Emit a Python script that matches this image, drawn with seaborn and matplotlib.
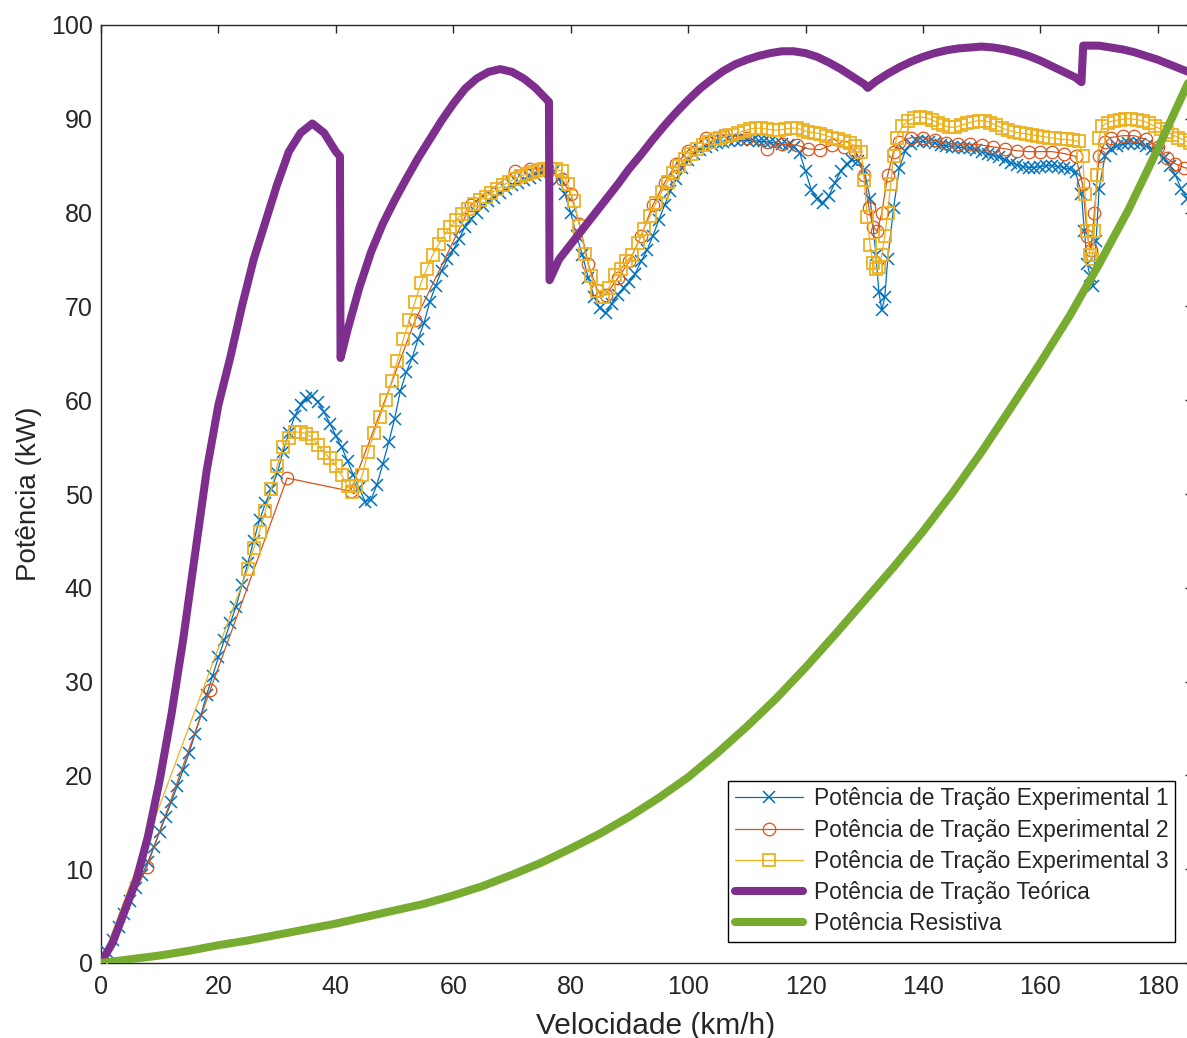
import matplotlib
matplotlib.use("Agg")
import matplotlib.pyplot as plt
import seaborn as sns
import pandas as pd

# ---------------- data ----------------
exp1_v = [0, 1, 2, 3, 4, 5, 6, 7, 8, 9, 10, 11, 12, 13, 14, 15, 16, 17, 18, 19, 20,
          21, 22, 23, 24, 25, 26, 27, 28, 29, 30, 31, 32, 33, 34, 35, 36, 37, 38, 39, 40,
          41, 42, 43, 44, 45, 46, 47, 48, 49, 50, 51, 52, 53, 54, 55, 56, 57, 58, 59, 60,
          61, 62, 63, 64, 65, 66, 67, 68, 69, 70, 71, 72, 73, 74, 75, 76, 77, 78, 79, 80,
          81, 82, 83, 84, 85, 86, 87, 88, 89, 90, 91, 92, 93, 94, 95, 96, 97, 98, 99, 100,
          101, 102, 103, 104, 105, 106, 107, 108, 109, 110, 111, 112, 113, 114, 115, 116,
          117, 118, 119, 120, 121, 122, 123, 124, 125, 126, 127, 128, 129, 130, 131, 132,
          132.5, 133, 133.5, 134, 135, 136, 137, 138, 139, 140, 141, 142, 143, 144, 145,
          146, 147, 148, 149, 150, 151, 152, 153, 154, 155, 156, 157, 158, 159, 160, 161,
          162, 163, 164, 165, 166, 167, 167.5, 168, 168.5, 169, 169.5, 170, 171, 172, 173,
          174, 175, 176, 177, 178, 179, 180, 181, 182, 183, 184, 185]
exp1_p = [0, 1.2, 2.5, 3.8, 5.2, 6.6, 8.0, 9.4, 10.8, 12.4, 14.0, 15.6, 17.2, 18.9, 20.6,
          22.4, 24.4, 26.4, 28.6, 30.6, 32.6, 34.4, 36.2, 38.0, 40.3, 42.6, 45.0, 47.2, 49.0,
          50.5, 52.2, 54.5, 56.5, 58.3, 59.5, 60.2, 60.4, 59.8, 58.7, 57.5, 56.2, 55.0, 53.5,
          52.0, 50.6, 49.2, 49.4, 51.0, 53.2, 55.5, 58.0, 61.0, 63.0, 64.5, 66.5, 68.2, 70.5,
          72.2, 73.8, 75.0, 76.0, 77.2, 78.5, 79.3, 80.0, 80.7, 81.2, 81.6, 82.1, 82.5, 82.9,
          83.2, 83.5, 83.7, 84.0, 84.2, 84.4, 84.3, 83.6, 82.0, 80.0, 77.5, 75.5, 73.0, 71.0,
          69.8, 69.3, 70.3, 71.2, 72.0, 72.6, 73.5, 74.8, 76.0, 77.5, 79.2, 80.8, 82.3, 83.6,
          84.8, 85.6, 86.2, 86.7, 87.0, 87.2, 87.4, 87.5, 87.6, 87.7, 87.7, 87.7, 87.7, 87.6,
          87.6, 87.5, 87.4, 87.3, 87.2, 87.0, 86.4, 84.4, 82.4, 81.4, 81.0, 81.8, 83.2, 84.4,
          85.2, 85.6, 85.5, 84.5, 81.5, 75.5, 71.5, 69.6, 71.0, 75.0, 80.5, 84.8, 86.6, 87.3,
          87.6, 87.6, 87.5, 87.4, 87.2, 87.1, 87.0, 87.0, 86.9, 86.9, 86.7, 86.5, 86.3, 86.1,
          85.9, 85.6, 85.3, 85.1, 84.9, 84.8, 84.8, 84.9, 85.0, 85.0, 84.9, 84.8, 84.6, 84.3,
          82.0, 78.0, 74.5, 73.2, 72.2, 77.0, 82.5, 86.0, 86.8, 87.1, 87.3, 87.4, 87.4, 87.3,
          87.1, 86.8, 86.4, 85.8, 85.0, 84.0, 82.5, 81.5]

exp2_v = [0, 7.8, 18.6, 31.7, 42.5, 53.5, 63.0, 70.5, 73, 76, 78.5, 80, 81.5, 83, 84.5,
          86, 88, 90, 92, 94, 96, 98, 100, 103, 106, 110, 113.4, 116, 118.5, 120.5, 122.4,
          124.5, 126.5, 128.5, 130, 130.8, 131.5, 132.2, 133, 134, 135, 136, 138, 140, 142,
          144, 146, 148, 150, 152, 154, 156, 158, 160, 162, 164, 166, 167.2, 168, 168.6,
          169.2, 170, 171, 172, 174, 176, 178, 180, 181.5, 183, 184.5, 186]
exp2_p = [0, 10.2, 29.1, 51.7, 50.3, 68.5, 80.8, 84.4, 84.6, 84.8, 83.6, 82.0, 78.8, 74.5,
          71.8, 71.2, 73.0, 74.8, 77.5, 80.8, 83.2, 85.2, 86.6, 88.0, 88.3, 88.0, 86.8, 87.3,
          87.2, 86.8, 86.7, 87.2, 87.0, 86.6, 84.0, 80.5, 78.5, 78.0, 80.0, 84.0, 86.5, 87.5,
          88.0, 88.0, 87.7, 87.4, 87.3, 87.3, 87.2, 87.0, 86.8, 86.6, 86.5, 86.5, 86.5, 86.3,
          86.0, 83.0, 77.5, 76.0, 80.0, 86.0, 87.5, 88.0, 88.2, 88.2, 87.8, 87.0, 85.8, 85.2,
          84.8, 84.6]

exp3_v = [0, 25, 26, 27, 28, 29, 30, 31, 32, 33, 34, 35, 36, 37, 38, 39, 40, 41, 42, 42.7,
          43.5, 44.5, 45.5, 46.5, 47.5, 48.5, 49.5, 50.5, 51.5, 52.5, 53.5, 54.5, 55.5, 56.5,
          57.5, 58.5, 59.5, 60.5, 61.5, 62.5, 63.5, 64.5, 65.5, 66.5, 67.5, 68.5, 69.5, 70.5,
          71.5, 72.5, 73.5, 74.5, 75.5, 76.5, 77.5, 78.5, 79.5, 80.5, 81.5, 82.5, 83.5, 84.5,
          85.5, 86.5, 87.5, 88.5, 89.5, 90.5, 91.5, 92.5, 93.5, 94.5, 95.5, 96.5, 97.5, 98.5,
          99.5, 100.5, 101.5, 102.5, 103.5, 104.5, 105.5, 106.5, 107.5, 108.5, 109.5, 110.5,
          111.5, 112.5, 113.5, 114.5, 115.5, 116.5, 117.5, 118.5, 119.5, 120.5, 121.5, 122.5,
          123.5, 124.5, 125.5, 126.5, 127.5, 128.5, 129.5, 130.0, 130.5, 131.0, 131.5, 132.0,
          132.5, 133.0, 133.5, 134.0, 134.5, 135.0, 135.5, 136.5, 137.5, 138.5, 139.5, 140.5,
          141.5, 142.5, 143.5, 144.5, 145.5, 146.5, 147.5, 148.5, 149.5, 150.5, 151.5, 152.5,
          153.5, 154.5, 155.5, 156.5, 157.5, 158.5, 159.5, 160.5, 161.5, 162.5, 163.5, 164.5,
          165.5, 166.5, 167.2, 167.6, 168.0, 168.4, 168.8, 169.2, 169.6, 170.0, 170.5, 171.5,
          172.5, 173.5, 174.5, 175.5, 176.5, 177.5, 178.5, 179.5, 180.5, 181.5, 182.5, 183.5,
          184.5, 185.5]
exp3_p = [0, 42.0, 44.2, 46.0, 48.2, 50.5, 53.0, 55.0, 56.0, 56.6, 56.6, 56.4, 56.0, 55.2,
          54.4, 53.8, 53.0, 52.0, 50.8, 50.2, 50.8, 52.0, 54.5, 56.5, 58.2, 60.0, 62.0, 64.2,
          66.5, 68.5, 70.5, 72.5, 74.0, 75.5, 76.6, 77.6, 78.5, 79.2, 79.8, 80.4, 80.9, 81.3,
          81.7, 82.1, 82.5, 82.9, 83.3, 83.6, 83.9, 84.1, 84.3, 84.5, 84.6, 84.6, 84.6, 84.4,
          83.0, 81.2, 78.6, 75.6, 73.2, 71.6, 71.0, 72.0, 73.3, 74.0, 74.8, 75.5, 76.8, 78.3,
          79.6, 81.0, 82.2, 83.3, 84.2, 85.0, 85.7, 86.3, 86.8, 87.2, 87.5, 87.8, 88.0, 88.2,
          88.3, 88.5, 88.7, 88.9, 89.0, 89.0, 88.9, 88.8, 88.8, 88.9, 89.0, 89.0, 88.8, 88.6,
          88.5, 88.4, 88.2, 88.0, 87.8, 87.6, 87.4, 87.1, 86.5, 83.5, 79.5, 76.5, 74.6, 74.0,
          74.2, 75.5, 77.5, 80.0, 83.0, 86.0, 88.0, 89.2, 89.8, 90.1, 90.2, 90.1, 89.9, 89.6,
          89.3, 89.1, 89.1, 89.3, 89.5, 89.7, 89.8, 89.8, 89.6, 89.3, 89.0, 88.8, 88.6, 88.5,
          88.4, 88.3, 88.2, 88.1, 88.0, 87.9, 87.8, 87.8, 87.7, 87.6, 86.0, 82.0, 78.0, 75.5,
          75.0, 78.0, 84.0, 88.0, 89.2, 89.6, 89.8, 89.9, 90.0, 90.0, 89.9, 89.8, 89.5, 89.2,
          88.9, 88.6, 88.3, 88.0, 87.7, 87.4]

teo_v = [0, 2, 4, 6, 8, 10, 12, 14, 16, 18, 20, 22, 24, 26, 28, 30, 32, 34, 36, 38, 40,
         40.7, 40.8, 42, 44, 46, 48, 50, 52, 54, 56, 58, 60, 62, 64, 66, 68, 70, 72, 74, 76,
         76.3, 76.4, 78, 80, 82, 84, 86, 88, 90, 92, 94, 96, 98, 100, 102, 104, 106, 108, 110,
         112, 114, 116, 118, 120, 122, 124, 126, 128, 130, 130.6, 132, 134, 136, 138, 140,
         142, 144, 146, 148, 150, 152, 154, 156, 158, 160, 162, 164, 166, 167, 167.3, 170,
         172, 174, 176, 178, 180, 182, 184, 186]
teo_p = [0, 2.2, 5.5, 8.8, 13.5, 19.5, 26.5, 34.5, 43.5, 52.5, 59.5, 64.5, 70.0, 75.0,
         79.0, 83.0, 86.5, 88.5, 89.5, 88.5, 86.5, 86.0, 64.5, 67.5, 72.0, 75.8, 78.8, 81.3,
         83.6, 85.8, 87.8, 89.8, 91.6, 93.2, 94.3, 95.0, 95.3, 95.0, 94.3, 93.3, 92.0, 91.8,
         72.8, 75.0, 76.6, 78.2, 79.8, 81.4, 83.0, 84.7, 86.2, 87.8, 89.3, 90.7, 92.0, 93.2,
         94.2, 95.1, 95.8, 96.3, 96.7, 97.0, 97.2, 97.2, 97.0, 96.6, 96.0, 95.3, 94.5, 93.7,
         93.3, 94.0, 94.8, 95.5, 96.1, 96.6, 97.0, 97.3, 97.5, 97.6, 97.7, 97.6, 97.4, 97.1,
         96.7, 96.2, 95.6, 95.0, 94.4, 93.9, 97.8, 97.8, 97.6, 97.4, 97.1, 96.7, 96.3, 95.8,
         95.3, 94.8]

res_v = [0, 5, 10, 15, 20, 25, 30, 35, 40, 45, 50, 55, 60, 65, 70, 75, 80, 85, 90, 95, 100,
         105, 110, 115, 120, 125, 130, 135, 140, 145, 150, 155, 160, 165, 170, 175, 180, 185,
         187]
res_p = [0, 0.4, 0.8, 1.3, 1.9, 2.4, 3.0, 3.6, 4.2, 4.9, 5.6, 6.3, 7.2, 8.2, 9.4, 10.7,
         12.2, 13.8, 15.6, 17.6, 19.8, 22.4, 25.2, 28.2, 31.5, 35.0, 38.6, 42.2, 46.0, 50.1,
         54.5, 59.2, 64.0, 69.0, 74.5, 80.3, 86.8, 93.6, 96.3]

labels = ["Potência de Tração Experimental 1",
          "Potência de Tração Experimental 2",
          "Potência de Tração Experimental 3",
          "Potência de Tração Teórica",
          "Potência Resistiva"]
x_ticks = [0, 20, 40, 60, 80, 100, 120, 140, 160, 180]
y_ticks = [0, 10, 20, 30, 40, 50, 60, 70, 80, 90, 100]

# ---------------- style ----------------
sns.set_style("white")
plt.rcParams["font.family"] = ["Liberation Sans", "DejaVu Sans"]
plt.rcParams["axes.linewidth"] = 1.0

W, H = 1187, 1038
fig = plt.figure(figsize=(W / 100, H / 100), dpi=100)
ax = fig.add_axes([101 / W, 75 / H, (1193 - 101) / W, 938 / H])

C1, C2, C3 = "#0072BD", "#D95319", "#EDB120"
CP, CG = "#7E2F8E", "#77AC30"

sns.lineplot(x=exp1_v, y=exp1_p, ax=ax, sort=False, estimator=None, color=C1,
             linewidth=0.9, marker="x", markersize=8.5, markeredgewidth=1.1,
             markeredgecolor=C1, label=labels[0], zorder=3)
sns.lineplot(x=exp2_v, y=exp2_p, ax=ax, sort=False, estimator=None, color=C2,
             linewidth=0.9, marker="o", markersize=9, markeredgewidth=0.9,
             markeredgecolor=C2, markerfacecolor="none", label=labels[1], zorder=4)
sns.lineplot(x=exp3_v, y=exp3_p, ax=ax, sort=False, estimator=None, color=C3,
             linewidth=0.9, marker="s", markersize=8.5, markeredgewidth=1.3,
             markeredgecolor=C3, markerfacecolor="none", label=labels[2], zorder=5)
sns.lineplot(x=teo_v, y=teo_p, ax=ax, sort=False, estimator=None, color=CP,
             linewidth=5.8, label=labels[3], zorder=6)
sns.lineplot(x=res_v, y=res_p, ax=ax, sort=False, estimator=None, color=CG,
             linewidth=5.8, label=labels[4], zorder=7)

ax.set_xlim(0, 186)
ax.set_ylim(0, 100)
ax.set_xticks(x_ticks)
ax.set_yticks(y_ticks)
for s in ax.spines.values():
    s.set_visible(True)
    s.set_color("#262626")
    s.set_linewidth(1.0)
ax.tick_params(axis="both", direction="in", length=6, width=1.0, colors="#262626",
               labelcolor="#262626", labelsize=18, top=True, right=True)
ax.tick_params(axis="x", pad=8.5)
ax.tick_params(axis="y", pad=6)

ax.set_xlabel("Velocidade (km/h)", fontsize=21.5, color="#262626")
ax.xaxis.label.set_verticalalignment("top")
ax.set_ylabel("Potência (kW)", fontsize=20, color="#262626", labelpad=6)

leg = ax.legend(loc="lower right", bbox_to_anchor=((1175 - 101) / 1092, (963 - 942) / 938),
                borderaxespad=0, fontsize=16.4, handlelength=3.0, handletextpad=0.45,
                labelspacing=0.36, borderpad=0.3, frameon=True, fancybox=False,
                framealpha=1, edgecolor="black")
leg.get_frame().set_linewidth(1.0)

# x label below the tick labels
ax.xaxis.set_label_coords((656 - 101) / 1092, -(1012 - 963) / 938)

fig.savefig("out.png", dpi=100, facecolor="white")
